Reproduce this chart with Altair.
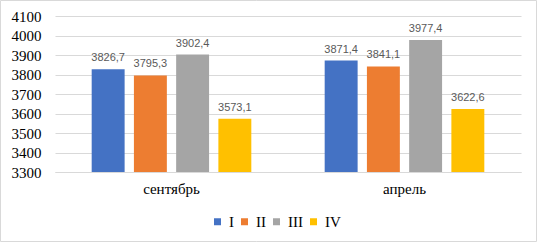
import altair as alt
import pandas as pd

months = ["сентябрь", "апрель"]
series = ["I", "II", "III", "IV"]
values_sep = [3826.7, 3795.3, 3902.4, 3573.1]
values_apr = [3871.4, 3841.1, 3977.4, 3622.6]
colors = ["#4472C4", "#ED7D31", "#A5A5A5", "#FFC000"]
y_ticks = [3300, 3400, 3500, 3600, 3700, 3800, 3900, 4000, 4100]

rows = []
for m, vals in zip(months, [values_sep, values_apr]):
    for s, v in zip(series, vals):
        rows.append({"month": m, "series": s, "value": v,
                     "label": f"{v:.1f}".replace(".", ",")})
df = pd.DataFrame(rows)

W, H = 466, 156
PL, PT, PR, PB = 55, 16, 16, 71

x_enc = alt.X("month:N", sort=months, title=None,
              scale=alt.Scale(paddingInner=0.275, paddingOuter=0.1375),
              axis=alt.Axis(labelAngle=0, labelPadding=9, ticks=False,
                            domain=True, domainColor="#D9D9D9", domainWidth=1))
xo_enc = alt.XOffset("series:N", sort=series,
                     scale=alt.Scale(paddingInner=0.22, paddingOuter=0.11))
y_enc = alt.Y("value:Q", title=None,
              scale=alt.Scale(domain=[3300, 4100], nice=False, zero=False),
              axis=alt.Axis(values=y_ticks, format="d", labelPadding=14,
                            ticks=False, domain=False,
                            grid=True, gridColor="#D9D9D9", gridWidth=1))

base = alt.Chart(df).encode(x=x_enc, xOffset=xo_enc, y=y_enc)

bars = base.mark_bar(clip=True).encode(
    color=alt.Color("series:N", sort=series,
                    scale=alt.Scale(domain=series, range=colors),
                    legend=alt.Legend(title=None, orient="none", direction="horizontal",
                                      legendX=155, legendY=198, padding=0,
                                      symbolType="square", symbolSize=49,
                                      symbolStrokeWidth=0,
                                      labelOffset=4, columnPadding=3)),
)

texts = base.mark_text(baseline="bottom", dy=-6, font="Liberation Sans",
                       fontSize=11, color="#595959").encode(text="label:N")

frame = alt.Chart(pd.DataFrame({"a": [0]})).mark_rect(
    fill=None, stroke="#D9D9D9", strokeWidth=1, clip=False).encode(
    x=alt.value(-PL + 0.5), x2=alt.value(W + PR - 0.5),
    y=alt.value(-PT + 0.5), y2=alt.value(H + PB - 1.5))

chart = alt.layer(bars, texts, frame).properties(
    width=W, height=H,
    autosize=alt.AutoSizeParams(type="none"),
    padding={"left": PL, "top": PT, "right": PR, "bottom": PB},
    background="white",
).configure_view(stroke=None).configure_axis(
    labelFont="Liberation Serif", labelFontSize=15, labelColor="#000000"
).configure_legend(
    labelFont="Liberation Serif", labelFontSize=15, labelColor="#000000"
)

chart.save("out.html", embed_options={"renderer": "svg", "actions": False})
